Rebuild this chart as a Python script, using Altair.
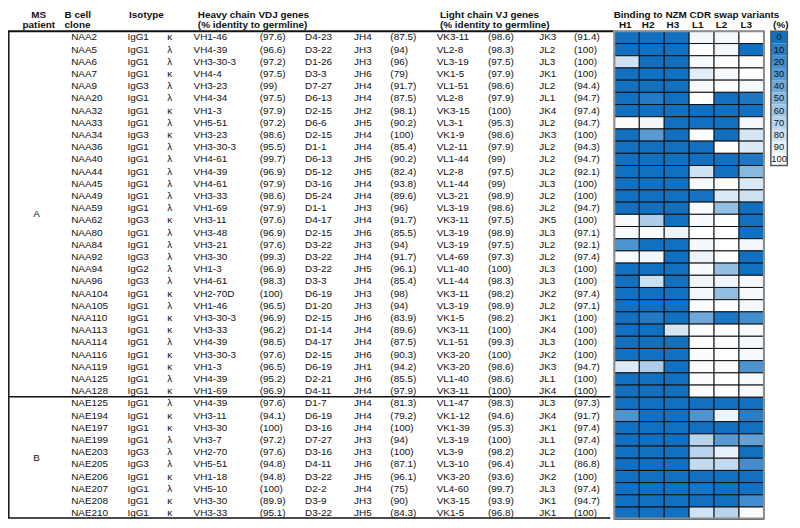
import altair as alt
import pandas as pd

# ---------------- data ----------------
patients = ["A"] * 30 + ["B"] * 10
clones = ["NAA2", "NAA5", "NAA6", "NAA7", "NAA9", "NAA20", "NAA32", "NAA33", "NAA34", "NAA36",
          "NAA40", "NAA44", "NAA45", "NAA49", "NAA59", "NAA62", "NAA80", "NAA84", "NAA92", "NAA94",
          "NAA96", "NAA104", "NAA105", "NAA110", "NAA113", "NAA114", "NAA116", "NAA119", "NAA125", "NAA128",
          "NAE125", "NAE194", "NAE197", "NAE199", "NAE203", "NAE205", "NAE206", "NAE207", "NAE208", "NAE210"]
isotypes = ["IgG1", "IgG1", "IgG1", "IgG1", "IgG3", "IgG1", "IgG1", "IgG1", "IgG3", "IgG1",
            "IgG1", "IgG1", "IgG1", "IgG1", "IgG1", "IgG3", "IgG1", "IgG1", "IgG3", "IgG2",
            "IgG3", "IgG1", "IgG1", "IgG1", "IgG1", "IgG1", "IgG1", "IgG1", "IgG1", "IgG1",
            "IgG1", "IgG1", "IgG1", "IgG1", "IgG3", "IgG3", "IgG1", "IgG1", "IgG1", "IgG1"]
light_types = ["κ", "λ", "λ", "κ", "λ", "λ", "κ", "λ", "κ", "λ",
               "λ", "λ", "λ", "λ", "λ", "κ", "λ", "λ", "λ", "λ",
               "λ", "κ", "λ", "κ", "κ", "λ", "κ", "κ", "λ", "κ",
               "λ", "κ", "κ", "λ", "λ", "λ", "κ", "λ", "κ", "κ"]
vh_genes = ["VH1-46", "VH4-39", "VH3-30-3", "VH4-4", "VH3-23", "VH4-34", "VH1-3", "VH5-51", "VH3-23", "VH3-30-3",
            "VH4-61", "VH4-39", "VH4-61", "VH3-33", "VH1-69", "VH3-11", "VH3-48", "VH3-21", "VH3-30", "VH1-3",
            "VH4-61", "VH2-70D", "VH1-46", "VH3-30-3", "VH3-33", "VH4-39", "VH3-30-3", "VH1-3", "VH4-39", "VH1-69",
            "VH4-39", "VH3-11", "VH3-30", "VH3-7", "VH2-70", "VH5-51", "VH1-18", "VH5-10", "VH3-30", "VH3-33"]
vh_identity = [97.6, 96.6, 97.2, 97.5, 99, 97.5, 97.9, 97.2, 98.6, 95.5,
               99.7, 96.9, 97.9, 98.6, 97.9, 97.6, 96.9, 97.6, 99.3, 96.9,
               98.3, 100, 96.5, 96.9, 96.2, 98.5, 97.6, 96.5, 95.2, 96.9,
               97.6, 94.1, 100, 97.2, 97.6, 94.8, 94.8, 100, 89.9, 95.1]
d_genes = ["D4-23", "D3-22", "D1-26", "D3-3", "D7-27", "D6-13", "D2-15", "D6-6", "D2-15", "D1-1",
           "D6-13", "D5-12", "D3-16", "D5-24", "D1-1", "D4-17", "D2-15", "D3-22", "D3-22", "D3-22",
           "D3-3", "D6-19", "D1-20", "D2-15", "D1-14", "D4-17", "D2-15", "D6-19", "D2-21", "D4-11",
           "D1-7", "D6-19", "D3-16", "D7-27", "D3-16", "D4-11", "D3-22", "D2-2", "D3-9", "D3-22"]
jh_genes = ["JH4", "JH3", "JH3", "JH6", "JH4", "JH4", "JH2", "JH5", "JH4", "JH4",
            "JH5", "JH5", "JH4", "JH4", "JH3", "JH4", "JH6", "JH3", "JH4", "JH5",
            "JH4", "JH3", "JH3", "JH6", "JH4", "JH4", "JH6", "JH1", "JH6", "JH4",
            "JH4", "JH4", "JH4", "JH3", "JH3", "JH6", "JH5", "JH4", "JH3", "JH5"]
jh_identity = [87.5, 94, 96, 79, 91.7, 87.5, 98.1, 90.2, 100, 85.4,
               90.2, 82.4, 93.8, 89.6, 96, 91.7, 85.5, 94, 91.7, 96.1,
               85.4, 98, 94, 83.9, 89.6, 87.5, 90.3, 94.2, 85.5, 97.9,
               81.3, 79.2, 100, 94, 100, 87.1, 96.1, 75, 90, 84.3]
vl_genes = ["VK3-11", "VL2-8", "VL3-19", "VK1-5", "VL1-51", "VL2-8", "VK3-15", "VL3-1", "VK1-9", "VL2-11",
            "VL1-44", "VL2-8", "VL1-44", "VL3-21", "VL3-19", "VK3-11", "VL3-19", "VL3-19", "VL4-69", "VL1-40",
            "VL1-44", "VK3-11", "VL3-19", "VK1-5", "VK3-11", "VL1-51", "VK3-20", "VK3-20", "VL1-40", "VK3-11",
            "VL1-47", "VK1-12", "VK1-39", "VL3-19", "VL3-9", "VL3-10", "VK3-20", "VL4-60", "VK3-15", "VK1-5"]
vl_identity = [98.6, 98.3, 97.5, 97.9, 98.6, 97.9, 100, 95.3, 98.6, 97.9,
               99, 97.5, 99, 98.9, 98.6, 97.5, 98.9, 97.5, 97.3, 100,
               98.3, 98.2, 98.9, 98.2, 100, 99.3, 100, 98.6, 98.6, 100,
               98.3, 94.6, 95.3, 100, 98.2, 96.4, 93.6, 99.7, 93.9, 96.8]
jl_genes = ["JK3", "JL2", "JL3", "JK1", "JL2", "JL1", "JK4", "JL2", "JK3", "JL2",
            "JL2", "JL2", "JL3", "JL2", "JL2", "JK5", "JL3", "JL2", "JL2", "JL3",
            "JL3", "JK2", "JL2", "JK1", "JK4", "JL3", "JK2", "JK3", "JL1", "JK4",
            "JL3", "JK4", "JK1", "JL1", "JL2", "JL1", "JK2", "JL3", "JK1", "JK1"]
jl_identity = [91.4, 100, 100, 100, 94.4, 94.7, 97.4, 94.7, 100, 94.3,
               94.7, 92.1, 100, 100, 94.7, 100, 97.1, 92.1, 97.4, 100,
               100, 97.4, 97.1, 100, 100, 100, 100, 94.7, 100, 100,
               97.3, 91.7, 97.4, 97.4, 100, 86.8, 100, 97.4, 94.7, 100]

variants = ["H1", "H2", "H3", "L1", "L2", "L3"]
bind_h1 = [0, 0, 80, 0, 0, 0, 0, 98, 0, 0, 0, 0, 0, 0, 0, 97, 97, 25, 98, 0,
           0, 0, 0, 0, 0, 0, 0, 85, 0, 0, 0, 25, 0, 0, 0, 0, 0, 0, 0, 0]
bind_h2 = [0, 0, 0, 0, 0, 8, 0, 94, 30, 0, 0, 0, 0, 0, 0, 65, 97, 0, 95, 0,
           78, 0, 0, 8, 0, 0, 0, 65, 0, 0, 0, 0, 0, 0, 0, 0, 0, 0, 0, 0]
bind_h3 = [0, 0, 0, 0, 0, 0, 0, 0, 0, 0, 0, 0, 0, 0, 0, 0, 92, 0, 0, 0,
           0, 0, 0, 0, 82, 0, 0, 0, 0, 0, 0, 0, 0, 0, 0, 0, 0, 0, 0, 0]
bind_l1 = [95, 100, 97, 88, 97, 100, 0, 0, 98, 0, 0, 80, 97, 3, 97, 97, 100, 96, 92, 97,
           93, 95, 98, 40, 98, 98, 98, 98, 98, 98, 0, 25, 0, 70, 70, 75, 0, 3, 0, 80]
bind_l2 = [96, 94, 100, 97, 100, 0, 0, 0, 0, 100, 0, 0, 100, 85, 55, 100, 100, 100, 100, 55,
           93, 55, 100, 5, 100, 98, 100, 98, 100, 100, 0, 92, 0, 30, 90, 75, 0, 0, 0, 70]
bind_l3 = [100, 0, 98, 100, 96, 5, 0, 95, 82, 85, 5, 50, 85, 80, 0, 0, 0, 95, 0, 0,
           95, 97, 95, 20, 97, 96, 97, 25, 97, 97, 0, 10, 0, 35, 0, 20, 0, 0, 20, 97]
legend_ticks = [0, 10, 20, 30, 40, 50, 60, 70, 80, 90, 100]

# ---------------- layout / style ----------------
FONT = "Liberation Sans"
FS = 10
W, H = 790, 516
n = len(clones)
ROW_PX = 12.29
ROW0_PX = 27.7
Y_SCALE = alt.Scale(domain=[-ROW0_PX / ROW_PX, (H - ROW0_PX) / ROW_PX],
                    reverse=True, nice=False, zero=False)
# heatmap columns: index 0..6 -> pixels 611..761.7
COL_PX = (761.7 - 611) / 6
X_SCALE = alt.Scale(domain=[-611 / COL_PX, (W - 611) / COL_PX], nice=False, zero=False)
COLOR_SCALE = alt.Scale(domain=[0, 100], range=["#1170c0", "#ffffff"], interpolate="rgb")


def pct(v):
    return f"({v:g})"


table = pd.DataFrame({
    "row": list(range(n)),
    "clone": clones,
    "isotype": isotypes,
    "light": light_types,
    "vh": vh_genes,
    "vh_id": [pct(v) for v in vh_identity],
    "d": d_genes,
    "jh": jh_genes,
    "jh_id": [pct(v) for v in jh_identity],
    "vl": vl_genes,
    "vl_id": [pct(v) for v in vl_identity],
    "jl": jl_genes,
    "jl_id": [pct(v) for v in jl_identity],
})

groups = []
for p in dict.fromkeys(patients):
    idx = [i for i, q in enumerate(patients) if q == p]
    groups.append({"patient": p, "row": (idx[0] + idx[-1]) / 2})
group_df = pd.DataFrame(groups)

series = [bind_h1, bind_h2, bind_h3, bind_l1, bind_l2, bind_l3]
heat_rows = []
for ci, (v, vals) in enumerate(zip(variants, series)):
    for i, val in enumerate(vals):
        heat_rows.append({"variant": v, "ci": ci, "row": i, "value": val})
heat_df = pd.DataFrame(heat_rows)

legend_df = pd.DataFrame({"value": legend_ticks})


def ych(field):
    return alt.Y(field, type="quantitative", scale=Y_SCALE, axis=None)


def text_layer(df, field, xpos, align="left", bold=False, size=FS):
    kw = dict(align=align, baseline="middle", font=FONT, fontSize=size, color="#111111")
    if bold:
        kw["fontWeight"] = "bold"
    return alt.Chart(df).mark_text(**kw).encode(
        x=alt.value(xpos), y=ych("row"), text=alt.Text(f"{field}:N"))


layers = []

# heatmap
layers.append(alt.Chart(heat_df).transform_calculate(
    c1="datum.ci + 1", y0="datum.row - 0.5", y1="datum.row + 0.5"
).mark_rect(stroke="#111111", strokeWidth=1).encode(
    x=alt.X("ci:Q", scale=X_SCALE, axis=None), x2="c1:Q",
    y=ych("y0"), y2="y1:Q",
    color=alt.Color("value:Q", scale=COLOR_SCALE, legend=None),
))

# data columns
cols = [("clone", 63.7), ("isotype", 120.3), ("vh", 187), ("vh_id", 253.7), ("d", 299.3),
        ("jh", 348.7), ("jh_id", 385.3), ("vl", 432), ("vl_id", 483.7), ("jl", 535.3), ("jl_id", 570.3)]
for f, xp in cols:
    layers.append(text_layer(table, f, xp))
layers.append(text_layer(table, "light", 163, align="center"))

# patient group labels
layers.append(text_layer(group_df, "patient", 28.7, align="center"))

# headers
R1, R2 = -1.86, -0.98
headers = [
    ("MS", 31, R1, "center"), ("patient", 31, R2, "center"),
    ("B cell", 57, R1, "left"), ("clone", 57, R2, "left"),
    ("Isotype", 122, R1, "left"),
    ("Heavy chain VDJ genes", 191.3, R1, "left"), ("(% identity to germline)", 191.3, R2, "left"),
    ("Light chain VJ genes", 435.3, R1, "left"), ("(% identity to germline)", 435.3, R2, "left"),
    ("Binding to NZM CDR swap variants", 610.3, R1, "left"),
    ("(%)", 778.7, R2, "center"),
]
var_x = [622, 645, 670, 695, 719, 744]
for v, xp in zip(variants, var_x):
    headers.append((v, xp, R2, "center"))
for txt, xp, r, al in headers:
    hdf = pd.DataFrame({"label": [txt], "row": [r]})
    layers.append(text_layer(hdf, "label", xp, align=al, bold=True))

# table lines
hl = [(-0.5, 610, 2.0), (29.45, 607, 1.5), (39.4, 607, 1.5)]
for r, x2, w in hl:
    layers.append(alt.Chart(pd.DataFrame({"row": [r]})).mark_rule(color="#111111", strokeWidth=w).encode(
        x=alt.value(0), x2=alt.value(x2), y=ych("row")))
layers.append(alt.Chart(pd.DataFrame({"r0": [-0.5], "r1": [39.4]})).mark_rule(
    color="#111111", strokeWidth=1.5).encode(x=alt.value(0.8), y=ych("r0"), y2="r1:Q"))

# heatmap outer frame
layers.append(alt.Chart(pd.DataFrame({"c0": [0], "c1": [6], "r0": [-0.5], "r1": [39.45]})).mark_rect(
    fillOpacity=0, stroke="#8c8c8c", strokeWidth=2).encode(
    x=alt.X("c0:Q", scale=X_SCALE, axis=None), x2="c1:Q", y=ych("r0"), y2="r1:Q"))

# colour legend
layers.append(alt.Chart(legend_df).transform_calculate(
    ly0="datum.value / 10 - 0.5", ly1="datum.value / 10 + 0.5"
).mark_rect().encode(
    x=alt.value(768.7), x2=alt.value(785.3),
    y=ych("ly0"), y2="ly1:Q",
    color=alt.Color("value:Q", scale=COLOR_SCALE, legend=None),
))
layers.append(alt.Chart(pd.DataFrame({"r0": [-0.5], "r1": [10.5]})).mark_rect(
    fillOpacity=0, stroke="#555555", strokeWidth=1.5).encode(
    x=alt.value(768.7), x2=alt.value(785.3), y=ych("r0"), y2="r1:Q"))
layers.append(alt.Chart(legend_df).transform_calculate(
    row="datum.value / 10"
).mark_text(align="center", baseline="middle", font=FONT, fontSize=9.5, color="#111111").encode(
    x=alt.value(777), y=ych("row"), text="value:N"))

chart = alt.layer(*layers).properties(
    width=W, height=H, padding=0,
    autosize=alt.AutoSizeParams(type="none"),
).configure_view(stroke=None)

chart.save("out.html", embed_options={"renderer": "svg", "actions": False})
